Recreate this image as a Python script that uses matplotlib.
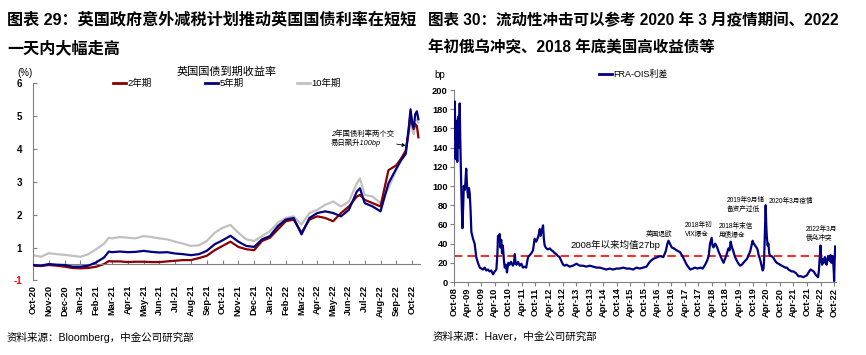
import matplotlib
matplotlib.use('Agg')
import matplotlib.pyplot as plt
from matplotlib.lines import Line2D

plt.rcParams['font.family'] = ['Liberation Sans', 'Noto Sans CJK SC']
plt.rcParams['axes.unicode_minus'] = False

# ── Left panel data: UK gilt yields (months since Oct-20, %) ─────────
gilt_t = [0, 0.5, 1, 1.5, 2, 2.5, 3, 3.5, 4, 4.5, 4.8, 5, 5.5, 6, 6.5, 7, 7.5, 8,
          8.5, 9, 9.5, 10, 10.5, 11, 11.5, 12, 12.5, 13, 13.5, 14, 14.5, 15,
          15.5, 16, 16.5, 17, 17.5, 18, 18.5, 19, 19.5, 20, 20.5, 20.7, 21,
          21.5, 22, 22.5, 23, 23.3, 23.6, 23.8, 23.9, 24.0, 24.1, 24.2, 24.3, 24.4]
gilt_2y = [-0.05, -0.06, -0.03, -0.05, -0.08, -0.12, -0.13, -0.12, -0.08, 0.0,
           0.09, 0.08, 0.08, 0.06, 0.07, 0.07, 0.06, 0.06, 0.08, 0.10, 0.12,
           0.12, 0.18, 0.25, 0.42, 0.55, 0.68, 0.52, 0.45, 0.42, 0.70, 0.80,
           1.05, 1.30, 1.35, 0.95, 1.35, 1.45, 1.40, 1.30, 1.55, 1.75, 2.05,
           2.10, 1.95, 1.85, 1.75, 2.85, 3.00, 3.20, 3.45, 4.10, 4.60, 4.25,
           4.10, 4.25, 4.20, 3.85]
gilt_5y = [-0.03, -0.05, 0.0, -0.02, -0.03, -0.08, -0.08, -0.05, 0.05, 0.20,
           0.38, 0.36, 0.38, 0.36, 0.37, 0.40, 0.37, 0.35, 0.36, 0.32, 0.30,
           0.27, 0.30, 0.40, 0.60, 0.72, 0.86, 0.68, 0.55, 0.52, 0.75, 0.85,
           1.15, 1.35, 1.40, 0.90, 1.40, 1.55, 1.60, 1.55, 1.45, 1.65, 2.20,
           2.30, 1.85, 1.75, 1.60, 2.45, 2.90, 3.15, 3.35, 4.20, 4.70, 4.30,
           4.15, 4.55, 4.64, 4.40]
gilt_10y = [0.27, 0.22, 0.33, 0.30, 0.28, 0.25, 0.22, 0.30, 0.45, 0.62, 0.80,
            0.78, 0.82, 0.80, 0.78, 0.85, 0.82, 0.78, 0.75, 0.68, 0.62, 0.55,
            0.57, 0.70, 0.95, 1.10, 1.19, 0.95, 0.75, 0.70, 0.85, 1.00, 1.25,
            1.40, 1.45, 1.20, 1.55, 1.65, 1.80, 1.90, 1.75, 1.90, 2.45, 2.60,
            2.10, 2.05, 1.85, 2.30, 2.85, 3.20, 3.40, 4.00, 4.45, 4.10, 3.95,
            4.35, 4.40, 4.30]
gilt_months = ['Oct-20', 'Nov-20', 'Dec-20', 'Jan-21', 'Feb-21', 'Mar-21', 'Apr-21',
               'May-21', 'Jun-21', 'Jul-21', 'Aug-21', 'Sep-21', 'Oct-21', 'Nov-21',
               'Dec-21', 'Jan-22', 'Feb-22', 'Mar-22', 'Apr-22', 'May-22', 'Jun-22',
               'Jul-22', 'Aug-22', 'Sep-22', 'Oct-22']
gilt_ylabels = ['6', '5', '4', '3', '2', '1', '-1']

# ── Right panel data: FRA-OIS spread (years since Oct-08, bp) ────────
fra_t = [0.0, 0.03, 0.06, 0.09, 0.12, 0.15, 0.18, 0.21, 0.23, 0.27, 0.31, 0.34,
         0.36, 0.40, 0.42, 0.45, 0.48, 0.52, 0.55, 0.58, 0.61, 0.64, 0.70, 0.76,
         0.82, 0.88, 0.95, 1.01, 1.07, 1.13, 1.19, 1.25, 1.31, 1.37, 1.44, 1.50,
         1.56, 1.60, 1.62, 1.65, 1.68, 1.71, 1.74, 1.77, 1.80, 1.84, 1.87, 1.91,
         1.95, 2.00, 2.05, 2.10, 2.17, 2.21, 2.24, 2.27, 2.30, 2.36, 2.42, 2.48,
         2.54, 2.60, 2.66, 2.70, 2.73, 2.79, 2.85, 2.91, 2.97, 3.03, 3.10, 3.16,
         3.19, 3.22, 3.28, 3.31, 3.34, 3.40, 3.46, 3.53, 3.59, 3.65, 3.71, 3.77,
         3.83, 3.89, 3.95, 4.02, 4.08, 4.14, 4.26, 4.38, 4.51, 4.63, 4.75, 4.87,
         5.00, 5.12, 5.25, 5.37, 5.49, 5.61, 5.74, 5.86, 5.98, 6.10, 6.23, 6.35,
         6.47, 6.60, 6.72, 6.84, 6.96, 7.09, 7.21, 7.33, 7.41, 7.50, 7.59, 7.71,
         7.80, 7.86, 7.90, 7.95, 8.02, 8.10, 8.20, 8.33, 8.45, 8.57, 8.70, 8.80,
         8.88, 8.97, 9.07, 9.16, 9.25, 9.32, 9.38, 9.43, 9.49, 9.52, 9.56, 9.62,
         9.68, 9.74, 9.80, 9.86, 9.93, 10.02, 10.11, 10.15, 10.19, 10.24, 10.29,
         10.35, 10.42, 10.48, 10.54, 10.60, 10.66, 10.72, 10.79, 10.85, 10.91,
         10.96, 11.00, 11.04, 11.09, 11.14, 11.18, 11.22, 11.27, 11.32, 11.37,
         11.40, 11.42, 11.45, 11.48, 11.50, 11.52, 11.55, 11.58, 11.61, 11.64,
         11.70, 11.77, 11.83, 11.89, 11.95, 12.01, 12.07, 12.14, 12.20, 12.26,
         12.32, 12.38, 12.44, 12.51, 12.60, 12.69, 12.78, 12.87, 12.93, 13.00,
         13.06, 13.13, 13.19, 13.25, 13.31, 13.37, 13.41, 13.44, 13.47, 13.50,
         13.53, 13.56, 13.59, 13.62, 13.66, 13.69, 13.72, 13.75, 13.78, 13.81,
         13.84, 13.87, 13.90, 13.93, 13.96, 13.99, 14.00, 14.02, 14.04]
fra_bp = [150, 188, 128, 168, 125, 172, 140, 186, 150, 95, 56, 80,
          100, 96, 104, 118, 100, 88, 98, 92, 75, 52, 45, 40,
          26, 20, 15, 14, 13, 15, 12, 13, 11, 12, 8, 11,
          13, 30, 48, 42, 50, 36, 44, 30, 38, 22, 15, 18,
          10, 20, 18, 21, 17, 20, 29, 19, 18, 21, 17, 19,
          15, 16, 15, 22, 26, 28, 30, 33, 45, 42, 47, 55,
          48, 52, 59, 45, 38, 35, 34, 35, 33, 32, 30, 29,
          27, 26, 22, 18, 17, 18, 16, 17, 19, 17, 17, 16,
          17, 16, 15, 15, 14, 13, 14, 13, 14, 14, 15, 14,
          14, 13, 15, 14, 15, 16, 21, 24, 25, 26, 27, 26,
          32, 40, 43, 40, 36, 35, 33, 31, 25, 18, 13, 14,
          15, 14, 15, 14, 18, 22, 27, 40, 46, 38, 36, 40,
          37, 32, 28, 24, 20, 27, 35, 33, 42, 36, 32,
          26, 22, 19, 17, 18, 20, 22, 24, 28, 32,
          38, 43, 40, 38, 36, 34, 28, 24, 18, 12,
          14, 22, 50, 80, 60, 48, 38, 40, 30, 27,
          27, 25, 22, 20, 19, 18, 17, 16, 15, 15,
          13, 12, 11, 11, 9, 6, 6, 5, 6, 7,
          10, 13, 12, 11, 8, 6, 5, 12, 25, 38,
          22, 18, 24, 20, 26, 23, 18, 22, 27, 25,
          22, 28, 20, 27, 24, 10, 1, 22, 37]
fra_mean = 27
fra_labels = ['Oct-08', 'Apr-09', 'Oct-09', 'Apr-10', 'Oct-10', 'Apr-11', 'Oct-11',
              'Apr-12', 'Oct-12', 'Apr-13', 'Oct-13', 'Apr-14', 'Oct-14', 'Apr-15',
              'Oct-15', 'Apr-16', 'Oct-16', 'Apr-17', 'Oct-17', 'Apr-18', 'Oct-18',
              'Apr-19', 'Oct-19', 'Apr-20', 'Oct-20', 'Apr-21', 'Oct-21', 'Apr-22',
              'Oct-22']

W, H = 866, 355
fig = plt.figure(figsize=(W / 100, H / 100), dpi=100)
spine_c = '#808080'

# ══════════════════════════════════════════════════════════════════
# LEFT: gilt yields
# ══════════════════════════════════════════════════════════════════
ax1 = fig.add_axes([33 / W, 1 - 280.5 / H, 387 / W, 197.5 / H])
ax1.plot(gilt_t, gilt_10y, color='#c0c0c0', lw=1.6, zorder=2)
ax1.plot(gilt_t, gilt_5y, color='#000080', lw=1.6, zorder=3)
ax1.plot(gilt_t, gilt_2y, color='#8b0000', lw=1.6, zorder=2.5)
ax1.set_xlim(0, 24.5)
ax1.set_ylim(-0.5, 5.5)
for s in ['top', 'right']:
    ax1.spines[s].set_visible(False)
ax1.spines['left'].set_color(spine_c)
ax1.spines['bottom'].set_color(spine_c)
ax1.spines['bottom'].set_position(('data', 0))
ax1.set_xticks(range(len(gilt_months)))
ax1.set_xticklabels(gilt_months, rotation=90, fontsize=6.7, weight='bold')
ax1.tick_params(axis='x', direction='in', length=3, color=spine_c, pad=15)
ytick_pos = [5.5 - i for i in range(6)] + [-0.5]
ax1.set_yticks(ytick_pos)
ax1.set_yticklabels(gilt_ylabels, fontsize=7, weight='bold')
ax1.get_yticklabels()[-1].set_color('red')
ax1.tick_params(axis='y', direction='in', length=3, color=spine_c, pad=8)

ax1.annotate('2年国债利率两个交\n易日飙升100bp', xy=(23.6, 3.6), xytext=(18.85, 3.81),
             fontsize=5.3, style='italic', va='center', ha='left', linespacing=1.3,
             arrowprops=dict(arrowstyle='-|>', color='black', lw=0.6,
                             mutation_scale=5, shrinkA=0, shrinkB=0))

h1 = [Line2D([], [], color='#8b0000', lw=2), Line2D([], [], color='#000080', lw=2),
      Line2D([], [], color='#c0c0c0', lw=2)]
fig.legend(h1, ['2年期', '5年期', '10年期'], title='英国国债到期收益率',
           loc='upper center', bbox_to_anchor=(227 / W, 1 - 67 / H), ncol=3,
           frameon=False, fontsize=6.8, title_fontsize=8, borderpad=0,
           handlelength=1.4, handletextpad=0.15, columnspacing=5.6,
           borderaxespad=0, labelspacing=0.2)
fig.text(17 / W, 1 - 73 / H, '(%)', fontsize=7, va='center', ha='left')

# ══════════════════════════════════════════════════════════════════
# RIGHT: FRA-OIS spread
# ══════════════════════════════════════════════════════════════════
ax2 = fig.add_axes([454 / W, 1 - 282 / H, 382 / W, 192 / H])
ax2.plot(fra_t, fra_bp, color='#000080', lw=1.6, zorder=3)
ax2.axhline(fra_mean, color='red', lw=1.2, ls=(0, (5, 3)), zorder=2)
ax2.set_xlim(0, 14.07)
ax2.set_ylim(0, 200)
for s in ['top', 'right']:
    ax2.spines[s].set_visible(False)
ax2.spines['left'].set_color(spine_c)
ax2.spines['bottom'].set_color(spine_c)
ax2.set_xticks([0.5 * i for i in range(len(fra_labels))])
ax2.set_xticklabels(fra_labels, rotation=90, fontsize=6.7, weight='bold')
ax2.tick_params(axis='x', direction='out', length=3, color=spine_c, pad=1)
ax2.set_yticks(range(0, 201, 20))
ax2.set_yticklabels([str(v) for v in range(0, 201, 20)], fontsize=6.7, weight='bold')
ax2.tick_params(axis='y', direction='out', length=3, color=spine_c, pad=1.5)

ax2.text(4.3, 38.5, '2008年以来均值27bp', fontsize=6.8, va='center', ha='left')
notes = [
    (7.05, 50, '英国退欧'),
    (8.5, 54, '2018年初\nVIX爆仓'),
    (9.76, 53, '2018年末信\n用债爆仓'),
    (10.05, 80, '2019年9月储\n备资产过低'),
    (11.6, 84, '2020年3月疫情'),
    (12.96, 50, '2022年3月\n俄乌冲突'),
]
for nx, ny, txt in notes:
    ax2.text(nx, ny, txt, fontsize=4.8, va='center', ha='left', linespacing=1.35)

h2 = [Line2D([], [], color='#000080', lw=2)]
fig.legend(h2, ['FRA-OIS利差'], loc='upper left', bbox_to_anchor=(599 / W, 1 - 70 / H),
           frameon=False, fontsize=6.5, borderpad=0, handlelength=1.4,
           handletextpad=0.15, borderaxespad=0)
fig.text(434 / W, 1 - 75 / H, 'bp', fontsize=7, va='center', ha='left')

# ── Titles and sources ─────────────────────────────────────────────
fig.text(7 / W, 1 - 20 / H, '图表 29：英国政府意外减税计划推动英国国债利率在短短',
         fontsize=11.6, weight='bold', va='center', ha='left')
fig.text(7 / W, 1 - 48 / H, '一天内大幅走高', fontsize=11.6, weight='bold',
         va='center', ha='left')
fig.text(428 / W, 1 - 20 / H, '图表 30：流动性冲击可以参考 2020 年 3 月疫情期间、2022',
         fontsize=11.2, weight='bold', va='center', ha='left')
fig.text(428 / W, 1 - 48 / H, '年初俄乌冲突、2018 年底美国高收益债等', fontsize=11.2,
         weight='bold', va='center', ha='left')
fig.text(7 / W, 1 - 337 / H, '资料来源：Bloomberg，中金公司研究部', fontsize=7.6,
         va='center', ha='left')
fig.text(433 / W, 1 - 337 / H, '资料来源：Haver，中金公司研究部', fontsize=7.6,
         va='center', ha='left')

fig.savefig('out.png', dpi=100)
